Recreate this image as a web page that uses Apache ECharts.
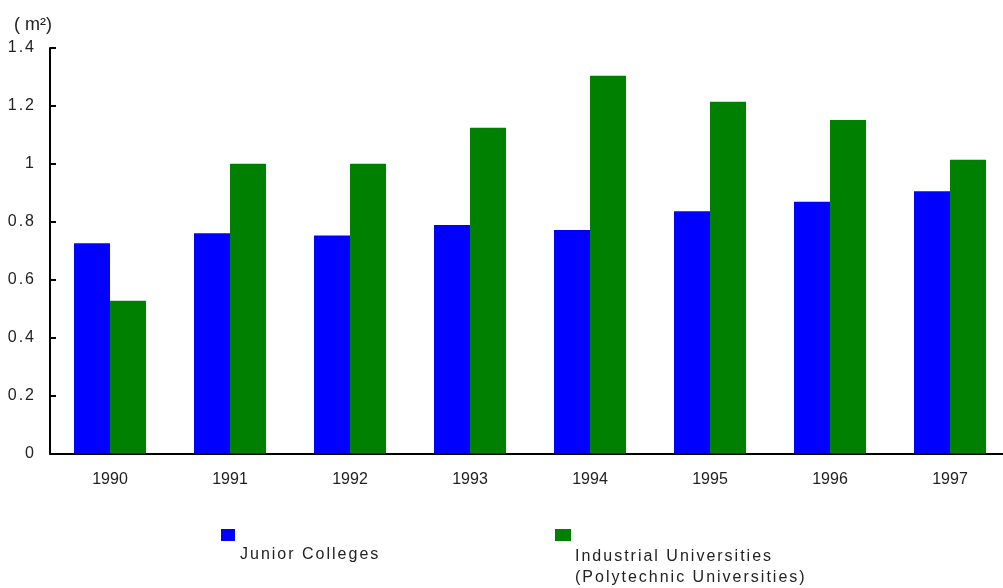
<!DOCTYPE html>
<html>
<head>
<meta charset="utf-8">
<script src="https://cdn.jsdelivr.net/npm/echarts@6/dist/echarts.min.js"></script>
<style>
  html, body { margin: 0; padding: 0; background: #fff; }
  #chart { width: 1003px; height: 588px; }
</style>
</head>
<body>
<div id="chart"></div>
<script>
const years = ['1990', '1991', '1992', '1993', '1994', '1995', '1996', '1997']
const juniorColleges = [0.726, 0.760, 0.753, 0.789, 0.772, 0.836, 0.869, 0.905]
const industrialUniv = [0.527, 1.0, 1.0, 1.125, 1.304, 1.214, 1.151, 1.014]
const seriesNames = ['Junior Colleges', 'Industrial Universities\n(Polytechnic Universities)']
const colors = ['#0000ff', '#008000']

// the source uses a loosely tracked sans for the legend / y labels,
// the year labels are tight -> space out only text set in "Liberation Sans"
const wideFont = 'Liberation Sans'
const tightFont = 'Arial'
const origFillText = CanvasRenderingContext2D.prototype.fillText
CanvasRenderingContext2D.prototype.fillText = function (...args) {
  this.letterSpacing = this.font.includes(wideFont) ? '2px' : '0px'
  return origFillText.apply(this, args)
}

const chart = echarts.init(document.getElementById('chart'))

chart.setOption({
  backgroundColor: '#fff',
  animation: false,
  grid: { left: 50, width: 960, top: 48, bottom: 134.5, outerBoundsMode: 'none', containLabel: false },
  xAxis: {
    type: 'category',
    data: years,
    axisLine: { lineStyle: { color: '#000', width: 2 } },
    axisTick: { inside: true, length: 6, lineStyle: { color: '#000', width: 2 } },
    axisLabel: { color: '#222', fontSize: 16, fontFamily: tightFont, margin: 18 }
  },
  yAxis: {
    type: 'value',
    min: 0,
    max: 1.4,
    interval: 0.2,
    splitLine: { show: false },
    axisLine: { show: true, lineStyle: { color: '#000', width: 2 } },
    axisTick: { show: true, inside: true, length: 6, lineStyle: { color: '#000', width: 2 } },
    axisLabel: { color: '#222', fontSize: 16, fontFamily: wideFont, margin: 14 }
  },
  series: [
    {
      name: seriesNames[0],
      type: 'bar',
      data: juniorColleges,
      itemStyle: { color: colors[0] },
      barGap: '0%',
      barCategoryGap: '40%'
    },
    {
      name: seriesNames[1],
      type: 'bar',
      data: industrialUniv,
      itemStyle: { color: colors[1] },
      barGap: '0%',
      barCategoryGap: '40%'
    }
  ],
  graphic: [
    // unit label
    { type: 'text', left: 14, top: 16,
      style: { text: '( m²)', fill: '#222', font: '18px ' + tightFont } },
    // legend, square above its text
    { type: 'rect', shape: { x: 221, y: 529, width: 14, height: 12 }, style: { fill: colors[0] } },
    { type: 'text', left: 240, top: 547,
      style: { text: seriesNames[0], fill: '#222', font: '16px ' + wideFont } },
    { type: 'rect', shape: { x: 555, y: 529, width: 16, height: 12 }, style: { fill: colors[1] } },
    { type: 'text', left: 575, top: 546,
      style: { text: seriesNames[1], fill: '#222', font: '16px ' + wideFont, lineHeight: 21 } }
  ]
})
</script>
</body>
</html>
